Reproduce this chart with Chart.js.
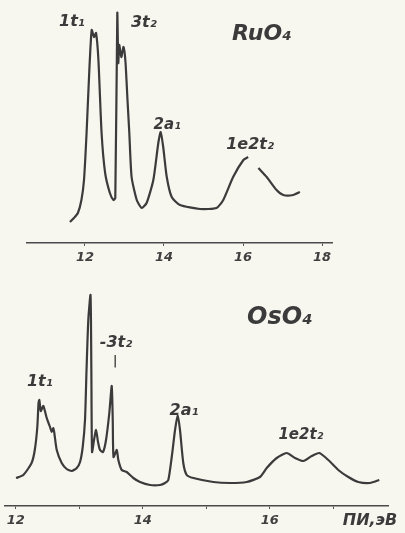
<!DOCTYPE html>
<html lang="ru">
<head>
<meta charset="UTF-8">
<title>RuO4 / OsO4 photoelectron spectra</title>
<script src="https://cdn.jsdelivr.net/npm/chart.js@4.4.1/dist/chart.umd.min.js"></script>
<style>
    body {
        margin: 0;
        background: #f7f6ef;
        width: 405px;
        height: 533px;
        overflow: hidden;
        position: relative;
    }
    .panel {
        position: absolute;
        left: 0;
        width: 405px;
    }
    #topPanel { top: 0; height: 265px; }
    #bottomPanel { top: 265px; height: 268px; }
</style>
</head>
<body>
<div class="panel" id="topPanel"><canvas id="ruChart"></canvas></div>
<div class="panel" id="bottomPanel"><canvas id="osChart"></canvas></div>

<script>
    // RuO4 spectrum (ionisation energy, eV -> relative intensity)
    const ruEnergy = [11.62, 11.72, 11.82, 11.91, 11.975, 12.04, 12.11, 12.17, 12.23, 12.28, 12.34, 12.42,
        12.51, 12.63, 12.72, 12.767, 12.818, 12.843, 12.868, 12.919, 12.975, 13.025, 13.076, 13.122,
        13.18, 13.31, 13.435, 13.56, 13.73, 13.856, 13.916, 13.98, 14.07, 14.195, 14.405, 14.91,
        15.33, 15.50, 15.75, 16.01, 16.13, 16.26, 16.39, 16.60, 16.85, 17.02, 17.27, 17.44];
    const ruIntensity = [21, 25, 30, 43, 63, 110, 173, 213, 206, 210, 183, 110,
        70, 50, 43, 45, 230, 180, 198, 186, 196, 181, 143, 110,
        66, 43, 35, 40, 63, 100, 111, 96, 66, 46, 38, 34,
        35, 43, 66, 83, 86, null, 75, 66, 53, 48, 48, 51];

    // OsO4 spectrum
    const osEnergy = [12.005, 12.12, 12.25, 12.30, 12.34, 12.359, 12.372, 12.394, 12.435, 12.488, 12.54,
        12.567, 12.592, 12.608, 12.646, 12.724, 12.803, 12.882, 12.961, 13.013, 13.055, 13.091,
        13.115, 13.143, 13.178, 13.191, 13.202, 13.233, 13.265, 13.296, 13.328, 13.375, 13.422,
        13.474, 13.512, 13.528, 13.54, 13.591, 13.616, 13.669, 13.748, 13.852, 13.957, 14.115,
        14.272, 14.351, 14.403, 14.457, 14.509, 14.551, 14.587, 14.639, 14.693, 14.797, 15.112,
        15.375, 15.638, 15.847, 15.953, 16.11, 16.268, 16.398, 16.529, 16.661, 16.781, 16.923,
        17.08, 17.238, 17.395, 17.58, 17.726];
    const osIntensity = [28, 31, 43, 56, 79, 103, 106, 95, 100, 88, 79,
        74, 78, 73, 56, 43, 37, 35, 38, 44, 59, 86,
        136, 186, 211, 136, 54, 66, 76, 64, 56, 54, 66,
        93, 120, 86, 49, 56, 46, 36, 34, 28, 24, 21,
        21, 23, 26, 49, 76, 91, 76, 43, 31, 28, 24,
        23, 24, 29, 38, 48, 53, 48, 45, 50, 53, 46,
        36, 29, 24, 23, 26];

    // axis ticks
    const ruTicks = [12, 14, 16, 18];
    const ruTickLabels = ['12', '14', '16', '18'];
    const osTicks = [12, 13, 14, 15, 16, 17];
    const osTickLabels = ['12', '', '14', '', '16', ''];

    // band assignments (placed in data coordinates)
    const ruLabelText = ['1t₁', '3t₂', 'RuO₄', '2a₁', '1e2t₂'];
    const ruLabelX = [11.67, 13.49, 16.48, 14.08, 16.18];
    const ruLabelY = [221, 220, 209, 118, 98];
    const ruLabelSize = [16, 16, 22, 15, 16];

    const osLabelText = ['1t₁', '-3t₂', '|', 'OsO₄', '2a₁', '1e2t₂', 'ПИ,эВ'];
    const osLabelX = [12.38, 13.58, 13.565, 16.16, 14.65, 16.49, 17.58];
    const osLabelY = [124, 163, 144, 188, 95, 71, -15];
    const osLabelSize = [16, 16, 12, 24, 16, 15, 16];

    const ink = '#3b3b3b';

    const labelPlugin = {
        id: 'bandLabels',
        afterDraw(chart, args, opts) {
            const ctx = chart.ctx;
            const xs = chart.scales.x;
            const ys = chart.scales.y;
            ctx.save();
            ctx.fillStyle = ink;
            ctx.textAlign = 'center';
            ctx.textBaseline = 'middle';
            opts.text.forEach((t, i) => {
                ctx.font = 'italic bold ' + opts.size[i] + 'px "DejaVu Sans"';
                ctx.fillText(t, xs.getPixelForValue(opts.x[i]), ys.getPixelForValue(opts.y[i]));
            });
            ctx.restore();
        }
    };

    function makeChart(id, energy, intensity, xMin, xMax, yMax, ticks, tickLabels, axisHeight, padRight, padLeft, labels) {
        const points = energy.map((e, i) => ({ x: e, y: intensity[i] }));
        return new Chart(document.getElementById(id), {
            type: 'line',
            data: {
                datasets: [{
                    data: points,
                    borderColor: ink,
                    borderWidth: 2.2,
                    pointRadius: 0,
                    tension: 0.2,
                    spanGaps: false,
                    fill: false,
                    clip: false
                }]
            },
            plugins: [labelPlugin],
            options: {
                responsive: true,
                maintainAspectRatio: false,
                animation: false,
                layout: { padding: { left: padLeft, right: padRight, top: 0, bottom: 0 } },
                plugins: {
                    legend: { display: false },
                    tooltip: { enabled: false },
                    bandLabels: labels
                },
                scales: {
                    x: {
                        type: 'linear',
                        min: xMin,
                        max: xMax,
                        afterBuildTicks: scale => {
                            scale.ticks = ticks.map(v => ({ value: v }));
                        },
                        afterFit: scale => {
                            scale.height = axisHeight;
                        },
                        grid: {
                            drawOnChartArea: false,
                            drawTicks: true,
                            tickLength: 3,
                            color: '#555'
                        },
                        border: { display: true, color: '#4a4a4a', width: 1.5 },
                        ticks: {
                            padding: 4,
                            maxRotation: 0,
                            autoSkip: false,
                            color: '#404040',
                            font: { family: '"DejaVu Sans"', size: 13, style: 'italic', weight: 'bold' },
                            callback: (v, i) => tickLabels[ticks.indexOf(v)] ?? ''
                        }
                    },
                    y: {
                        display: false,
                        min: 0,
                        max: yMax
                    }
                }
            }
        });
    }

    makeChart('ruChart', ruEnergy, ruIntensity, 10.532, 18.253, 243, ruTicks, ruTickLabels, 22, 73, 27,
        { text: ruLabelText, x: ruLabelX, y: ruLabelY, size: ruLabelSize });

    makeChart('osChart', osEnergy, osIntensity, 11.831, 17.863, 241, osTicks, osTickLabels, 27, 17, 5,
        { text: osLabelText, x: osLabelX, y: osLabelY, size: osLabelSize });
</script>
</body>
</html>
